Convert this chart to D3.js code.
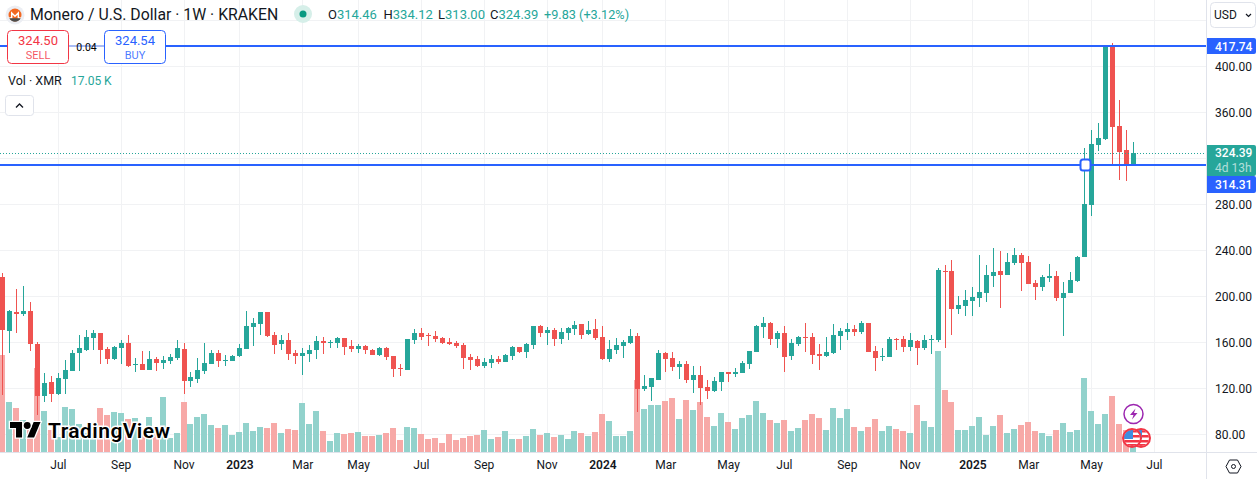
<!DOCTYPE html>
<html>
<head>
<meta charset="utf-8">
<style>
  html, body { margin: 0; padding: 0; background: #fff; overflow: hidden; }
  svg { display: block; }
  text { font-family: Roboto, "Noto Sans", sans-serif; }
</style>
<script src="https://cdnjs.cloudflare.com/ajax/libs/d3/7.8.5/d3.min.js"></script>
</head>
<body>
<script>
// weekly XMR/USD candles
var opens = [216.8,169.8,186.1,184.3,186.9,158.2,113.0,125.2,114.8,127.8,134.8,150.4,153.0,163.5,167.8,153.9,145.2,154.8,159.1,140.0,140.8,135.6,145.2,141.7,143.5,146.1,153.9,126.1,127.8,134.8,140.8,150.4,143.8,143.5,147.8,153.9,173.0,175.6,186.1,166.1,158.2,161.7,150.4,147.8,149.5,153.0,
160.8,159.4,159.1,163.5,156.5,153.9,156.5,153.0,148.7,154.8,
147.8,137.4,135.6,161.7,167.8,166.1,165.2,163.5,160.0,159.1,
157.4,146.9,145.2,139.1,141.7,145.2,142.6,147.8,155.6,151.3,
157.4,173.9,167.8,170.4,162.6,167.8,171.3,175.6,166.9,171.3,
164.3,145.2,153.0,156.5,159.1,165.2,119.1,120.8,126.9,150.4,
146.1,138.2,140.8,126.9,131.3,120.8,117.4,125.2,133.9,132.2,
133.0,140.8,151.3,173.0,176.5,162.6,167.8,147.8,158.2,164.3,
164.3,149.5,147.8,150.4,165.2,168.7,171.3,168.7,176.5,152.2,
146.9,146.9,162.6,162.6,155.6,160.8,154.8,161.7,161.7,221.7,
221.7,188.7,191.3,195.6,198.3,202.6,217.4,221.7,218.3,228.7,
235.7,229.6,211.3,207.8,215.6,217.4,198.3,202.6,213.0,233.9,
279.1,331.3,336.5,417.4,347.8,326.9,314.46];

var highs = [219.7,187.8,206.1,208.7,194.8,160.0,133.0,130.4,133.0,144.3,153.0,166.1,170.4,170.4,167.8,155.6,156.5,161.7,166.1,146.1,152.2,152.2,146.9,147.8,149.5,161.7,159.1,133.9,146.1,159.1,153.0,153.0,148.7,148.7,158.2,186.9,180.9,186.1,186.1,168.7,166.1,167.8,153.0,154.8,157.4,165.2,
164.3,161.7,164.3,163.5,161.7,158.2,157.4,153.9,155.6,155.6,
147.8,140.8,162.6,171.3,172.2,167.8,169.5,164.3,163.5,160.8,
159.1,149.5,147.8,146.1,148.7,147.8,149.5,156.5,155.6,159.1,
173.9,174.8,173.0,172.2,172.2,173.0,178.2,175.6,178.2,180.0,
173.9,161.7,163.5,161.7,171.3,167.8,131.3,128.7,153.0,151.3,
151.3,143.5,143.5,139.1,139.1,126.9,129.5,133.9,133.9,137.4,
143.5,152.2,174.8,181.7,177.4,169.5,173.9,162.6,165.2,176.5,
167.8,158.2,164.3,175.6,172.2,176.5,174.8,178.2,176.5,156.5,
154.8,164.3,163.5,165.2,167.8,161.7,166.1,166.1,224.3,227.0,
231.3,200.0,205.2,207.8,235.7,227.0,241.7,239.1,237.4,241.7,
237.4,234.8,213.9,218.3,227.8,221.7,212.2,220.9,234.8,328.7,
344.3,350.4,417.74,420.0,370.4,344.3,334.12];

var lows = [113.9,150.7,168.1,182.6,152.4,96.5,107.8,107.8,113.9,114.8,134.8,134.8,152.2,153.0,140.8,140.8,144.3,140.8,138.2,133.9,135.6,135.6,134.8,136.5,140.8,144.3,114.8,120.8,124.3,132.2,140.8,138.2,139.1,143.5,146.9,153.9,156.5,166.1,164.3,149.5,153.0,144.3,140.8,131.3,142.6,145.2,
149.5,154.8,154.8,148.7,151.3,150.4,149.5,148.7,147.8,144.3,
129.5,130.4,135.6,158.2,161.7,156.5,160.0,158.2,157.4,154.8,
136.5,135.6,138.2,137.4,137.4,140.8,142.6,144.3,150.4,146.1,
153.9,164.3,157.4,156.5,158.2,161.7,166.1,162.6,166.1,161.7,
144.3,142.6,149.5,146.1,158.2,99.1,117.4,108.7,126.9,133.9,
134.8,127.8,124.3,115.6,105.2,110.4,116.5,117.4,125.2,129.5,
133.0,136.5,151.3,163.5,157.4,154.8,133.9,144.3,156.5,151.3,
140.8,135.6,146.9,149.5,153.0,161.7,165.2,166.9,151.3,134.8,
143.5,146.9,153.0,151.3,152.2,140.0,153.0,149.5,160.0,154.8,
166.1,184.3,182.6,182.6,190.4,194.8,207.8,189.6,218.3,227.0,
204.3,210.4,196.5,204.3,212.2,195.6,165.2,202.6,212.2,233.9,
269.5,326.1,335.6,314.8,300.9,300.0,313.00];

var closes = [170.4,186.9,184.3,186.9,158.5,113.0,124.3,114.8,128.7,135.6,150.4,154.8,164.3,167.8,153.0,145.2,155.6,159.1,139.1,140.8,135.6,145.2,141.7,144.3,146.9,154.8,126.1,129.5,135.6,141.7,150.4,143.5,144.3,147.8,154.8,173.9,176.5,186.1,165.2,157.4,161.7,149.5,147.8,150.4,153.0,160.9,
159.1,160.3,163.5,155.6,153.9,156.5,153.0,148.7,154.8,146.9,
136.5,136.5,162.6,167.8,164.3,165.2,162.6,159.1,158.2,156.5,
146.1,144.3,139.1,142.6,145.2,142.6,148.7,155.6,151.3,158.2,
173.9,167.8,170.4,162.6,168.7,172.2,174.8,166.1,170.4,163.5,
145.2,153.9,157.4,160.0,165.2,119.1,121.7,128.7,150.4,145.2,
138.2,140.8,126.9,131.3,120.0,117.4,126.1,133.9,132.2,133.9,
141.7,152.2,173.9,176.5,162.6,167.8,146.9,159.1,164.3,163.5,
148.7,147.8,151.3,166.1,169.5,171.3,168.7,176.5,151.3,146.1,
147.8,162.6,161.7,155.6,161.7,154.8,161.7,162.6,222.6,220.9,
188.7,192.2,196.5,199.1,203.5,218.3,220.9,218.3,229.6,235.7,
228.7,210.4,207.8,216.5,217.4,198.3,202.6,213.9,233.9,280.0,
332.2,337.4,417.4,346.9,325.2,314.8,324.39];

// volume in thousands
var volumes = [87.3,45,39.6,28.8,19.8,75.6,36.9,19.8,13.8,40.5,38.7,25.2,16.8,16.8,39.6,33.3,36,35.1,29.7,30.6,19.8,31.5,22.8,49.5,12.6,17.1,45,25.2,31.5,34.2,24.3,21.6,24.3,15.3,18,26.1,18.9,22.5,21.6,26.1,17.1,20.7,19.8,44.1,25.2,36.9,
18.9,9.9,17.1,16.2,17.1,18,14.4,14.4,15.3,17.1,
21.6,10.8,22.5,21.6,16.2,11.7,12.6,8.1,16.2,10.8,
12.6,14.4,15.3,19.8,11.7,13.5,18.9,11.7,11.7,14.4,
20.7,15.3,17.1,13.5,15.3,11.7,18.9,17.1,14.4,18,
34.2,27.9,14.4,14.4,18.9,64.8,38.7,42.3,42.3,45.9,
48.6,29.7,46.8,37.8,45,31.5,23.4,35.1,27,20.7,
30.6,33.3,45.9,35.1,28.8,26.1,28.8,18.9,21.6,28.8,
34.2,30.6,19.8,39.6,30.6,38.7,22.5,18.9,22.5,29.7,
18.9,23.4,20.7,18.9,17.1,42.3,27.9,22.5,90.9,55.8,
45,19.8,19.8,23.4,31.5,15.3,23.4,33.3,17.1,20.7,
24.3,27,18.9,17.1,14.4,19.8,26.1,18,19.8,66.6,
36.9,25.2,34.2,50.4,25.2,20,17.05];

var priceTicks = [80,120,160,200,240,280,320,360,400,440];
var priceLabels = [80,120,160,200,240,280,360,400];
var timeTicks = [8,17,26,34,43,51,60,69,78,86,95,104,112,121,130,139,147,156,165];
var timeLabels = ["Jul","Sep","Nov","2023","Mar","May","Jul","Sep","Nov","2024","Mar","May","Jul","Sep","Nov","2025","Mar","May","Jul"];
var yearLabels = ["2023","2024","2025"];

var width = 1257;
var height = 479;
var paneRight = 1206;
var paneBottom = 452;
var upColor = "#26a69a";
var downColor = "#ef5350";
var blue = "#2962ff";
var textColor = "#131722";
var gridColor = "#f1f2f4";

var x = d3.scaleLinear().domain([0, 162]).range([2, 1133]);
var y = d3.scaleLinear().domain([80, 400]).range([434, 66]);
var v = d3.scaleLinear().domain([0, 100]).range([paneBottom, paneBottom - 111.1]);

var col = function(i) { return Math.round(x(i)); };

var canvas = d3.select("body")
  .append("svg")
  .attr("width", width)
  .attr("height", height);

canvas.append("clipPath").attr("id", "pane")
  .append("rect").attr("width", paneRight).attr("height", paneBottom);

var pane = canvas.append("g").attr("clip-path", "url(#pane)");

// grid
pane.append("g").selectAll("line").data(priceTicks).join("line")
  .attr("x1", 0).attr("x2", paneRight)
  .attr("y1", d => Math.round(y(d)) + 0.5).attr("y2", d => Math.round(y(d)) + 0.5)
  .attr("stroke", gridColor);
pane.append("g").selectAll("line").data(timeTicks).join("line")
  .attr("x1", d => col(d) + 0.5).attr("x2", d => col(d) + 0.5)
  .attr("y1", 0).attr("y2", paneBottom)
  .attr("stroke", gridColor);

// volume
pane.append("g").selectAll("rect").data(volumes).join("rect")
  .attr("x", (d, i) => col(i) - 3)
  .attr("width", 6)
  .attr("y", d => Math.round(v(d)))
  .attr("height", d => paneBottom - Math.round(v(d)))
  .attr("fill", (d, i) => closes[i] >= opens[i] ? "#92d2cc" : "#f7a9a7");

// candles
var candles = pane.append("g").selectAll("g").data(opens).join("g")
  .attr("fill", (d, i) => closes[i] >= opens[i] ? upColor : downColor);
candles.append("rect")
  .attr("x", (d, i) => col(i))
  .attr("width", 1)
  .attr("y", (d, i) => Math.round(y(highs[i])))
  .attr("height", (d, i) => Math.max(1, Math.round(y(lows[i])) - Math.round(y(highs[i]))));
candles.append("rect")
  .attr("x", (d, i) => col(i) - 2)
  .attr("width", 5)
  .attr("y", (d, i) => Math.round(y(Math.max(opens[i], closes[i]))))
  .attr("height", (d, i) => Math.max(1, Math.round(y(Math.min(opens[i], closes[i]))) - Math.round(y(Math.max(opens[i], closes[i])))));

// last price dotted line
pane.append("line")
  .attr("x1", 0).attr("x2", paneRight)
  .attr("y1", Math.round(y(324.39)) + 0.5).attr("y2", Math.round(y(324.39)) + 0.5)
  .attr("stroke", upColor).attr("stroke-dasharray", "1 2");

// horizontal drawing lines
var levels = [417.74, 314.31];
pane.append("g").selectAll("line").data(levels).join("line")
  .attr("x1", 0).attr("x2", paneRight)
  .attr("y1", d => Math.round(y(d))).attr("y2", d => Math.round(y(d)))
  .attr("stroke", blue).attr("stroke-width", 2);
pane.append("rect")
  .attr("x", 1080.5).attr("y", Math.round(y(314.31)) - 5.5).attr("width", 10).attr("height", 11).attr("rx", 2.5)
  .attr("fill", "#fff").attr("stroke", blue).attr("stroke-width", 2);

// pane borders
canvas.append("line").attr("x1", paneRight + 0.5).attr("x2", paneRight + 0.5).attr("y1", 0).attr("y2", height).attr("stroke", "#e0e3eb");
canvas.append("line").attr("x1", 0).attr("x2", width).attr("y1", paneBottom + 0.5).attr("y2", paneBottom + 0.5).attr("stroke", "#e0e3eb");

// axes
var priceAxis = d3.axisRight(y).tickValues(priceLabels).tickSize(0).tickPadding(0).tickFormat(d3.format(".2f"));
var priceG = canvas.append("g").attr("transform", `translate(${paneRight + 9},1)`).call(priceAxis);
priceG.select(".domain").remove();
priceG.selectAll("text").attr("font-size", 12).attr("fill", textColor).attr("font-family", "Roboto");

var timeAxis = d3.axisBottom(x).tickValues(timeTicks).tickSize(0).tickPadding(0)
  .tickFormat((d, i) => timeLabels[i]);
var timeG = canvas.append("g").attr("transform", `translate(0,${paneBottom + 8})`).call(timeAxis);
timeG.select(".domain").remove();
timeG.selectAll("text")
  .attr("font-size", 12)
  .attr("font-family", "Roboto")
  .attr("fill", textColor)
  .attr("font-weight", (d, i) => yearLabels.indexOf(timeLabels[i]) >= 0 ? 600 : 400);

// price tags on the axis
function tag(value, top, h, color, baseline, label) {
  var g = canvas.append("g");
  g.append("path")
    .attr("d", `M${paneRight + 1},${top}h47a2,2 0 0 1 2,2v${h - 4}a2,2 0 0 1 -2,2h-47z`)
    .attr("fill", color);
  g.append("text").attr("x", paneRight + 9).attr("y", top + baseline).attr("font-size", 12).attr("font-weight", 500)
    .attr("fill", "#fff").text(value);
  if (label) g.append("text").attr("x", paneRight + 9).attr("y", top + 27).attr("font-size", 12)
    .attr("fill", "#fff").attr("fill-opacity", 0.65).text(label);
}
tag("417.74", 38, 16, blue, 12.5);
tag("324.39", 145, 31, upColor, 12, "4d 13h");
tag("314.31", 176, 17, blue, 13);

// USD button
canvas.append("rect").attr("x", 1210.5).attr("y", 2.5).attr("width", 45).attr("height", 25).attr("rx", 4)
  .attr("fill", "#fff").attr("stroke", "#e0e3eb");
canvas.append("text").attr("x", 1214).attr("y", 19).attr("font-size", 12).attr("fill", textColor).text("USD");
canvas.append("path").attr("d", "M1246,14l2.5,2.5l2.5,-2.5").attr("fill", "none").attr("stroke", textColor).attr("stroke-width", 1.2);

// settings hexagon
canvas.append("path").attr("d", "M1226,466.5l3.5,-6.5h8l3.5,6.5l-3.5,6.5h-8z").attr("fill", "none").attr("stroke", textColor);
canvas.append("circle").attr("cx", 1233.5).attr("cy", 466.5).attr("r", 2).attr("fill", "none").attr("stroke", textColor);

// header
var head = canvas.append("g");
head.append("circle").attr("cx", 15).attr("cy", 15).attr("r", 9.5).attr("fill", "#eceef3");
head.append("circle").attr("cx", 15).attr("cy", 15).attr("r", 6.5).attr("fill", "#f26822");
head.append("path").attr("d", "M9.3,18h2.4v-5l3.3,3.2l3.3,-3.2v5h2.4").attr("fill", "none").attr("stroke", "#fff").attr("stroke-width", 1.4);
head.append("path").attr("d", "M9.3,18.3h2.4l3.3,-0.1l3.3,0.1h2.4a6.5,6.5 0 0 1 -11.4,0z").attr("fill", "#4d4d4d");
head.append("text").attr("x", 30).attr("y", 20).attr("font-size", 15.8).attr("font-family", "Open Sans").attr("fill", textColor)
  .text("Monero / U.S. Dollar · 1W · KRAKEN");
head.append("circle").attr("cx", 303).attr("cy", 14).attr("r", 9).attr("fill", "#d6efe9");
head.append("circle").attr("cx", 303).attr("cy", 14).attr("r", 3.5).attr("fill", "#089981");

var ohlcLabels = ["O", "H", "L", "C"];
var ohlcValues = ["314.46", "334.12", "313.00", "324.39"];
var ohlcX = [328, 383.5, 438, 490];
ohlcLabels.forEach(function(k, i) {
  var t = head.append("text").attr("x", ohlcX[i]).attr("y", 19).attr("font-size", 13).attr("font-family", "Open Sans").attr("fill", textColor);
  t.append("tspan").text(k);
  t.append("tspan").attr("fill", upColor).text(ohlcValues[i]);
});
head.append("text").attr("x", 544).attr("y", 19).attr("font-size", 12.7).attr("font-family", "Open Sans").attr("fill", upColor).text("+9.83 (+3.12%)");

// buy and sell buttons
canvas.append("rect").attr("x", 69).attr("y", 44).attr("width", 35).attr("height", 4).attr("fill", "#fff");
canvas.append("line").attr("x1", 69).attr("x2", 104).attr("y1", 46).attr("y2", 46).attr("stroke", "#a9bcf5").attr("stroke-width", 2);
function orderBox(bx, color, price, side) {
  canvas.append("rect").attr("x", bx + 0.5).attr("y", 30.5).attr("width", 61).attr("height", 33).attr("rx", 4)
    .attr("fill", "#fff").attr("stroke", color);
  canvas.append("text").attr("x", bx + 31).attr("y", 45).attr("text-anchor", "middle").attr("font-size", 13).attr("fill", color).text(price);
  canvas.append("text").attr("x", bx + 31).attr("y", 59).attr("text-anchor", "middle").attr("font-size", 11).attr("fill", color).attr("fill-opacity", 0.85).text(side);
}
orderBox(7, "#f23645", "324.50", "SELL");
orderBox(104, blue, "324.54", "BUY");
canvas.append("text").attr("x", 86.5).attr("y", 51).attr("text-anchor", "middle").attr("font-size", 10.5).attr("fill", "#000").text("0.04");

// volume legend
canvas.append("text").attr("x", 8).attr("y", 85).attr("font-size", 12.5).attr("fill", textColor).text("Vol · XMR");
canvas.append("text").attr("x", 71).attr("y", 85).attr("font-size", 12).attr("fill", upColor).text("17.05 K");
canvas.append("rect").attr("x", 5.5).attr("y", 95.5).attr("width", 28).attr("height", 20).attr("rx", 3).attr("fill", "#fff").attr("stroke", "#e0e3eb");
canvas.append("path").attr("d", "M16,107.5l3.5,-3.5l3.5,3.5").attr("fill", "none").attr("stroke", textColor).attr("stroke-width", 1.3);

// tradingview logo
var logo = canvas.append("g");
logo.append("g").attr("transform", "translate(10,418.6) scale(0.86)")
  .call(function(g) {
    g.append("path").attr("d", "M14 22H7V11H0V4h14v18zM28 22h-8l7.5-18h8L28 22z").attr("fill", "#000")
      .attr("stroke", "#fff").attr("stroke-width", 3).attr("paint-order", "stroke");
    g.append("circle").attr("cx", 20).attr("cy", 8).attr("r", 4).attr("fill", "#000")
      .attr("stroke", "#fff").attr("stroke-width", 3).attr("paint-order", "stroke");
  });
logo.append("text").attr("x", 48).attr("y", 438).attr("font-size", 21).attr("letter-spacing", 0.45).attr("font-weight", 600).attr("font-family", "Inter")
  .attr("fill", "#000").attr("stroke", "#fff").attr("stroke-width", 3).attr("paint-order", "stroke").text("TradingView");

// event markers
canvas.append("circle").attr("cx", 1133.5).attr("cy", 414).attr("r", 9.5).attr("fill", "#fff").attr("stroke", "#9c27b0").attr("stroke-width", 1.5);
canvas.append("path").attr("d", "M1135.5,408.5l-5.5,6.5h3.5l-1.5,4.5l5.5,-6.5h-3.5z").attr("fill", "#9c27b0");

function flag(id, cx, cy) {
  var g = canvas.append("g");
  g.append("clipPath").attr("id", id).append("circle").attr("cx", cx).attr("cy", cy).attr("r", 8);
  var f = g.append("g").attr("clip-path", `url(#${id})`);
  f.append("rect").attr("x", cx - 8).attr("y", cy - 8).attr("width", 16).attr("height", 16).attr("fill", "#fff");
  [-8, -3, 2, 6].forEach(function(d) {
    f.append("rect").attr("x", cx - 8).attr("y", cy + d).attr("width", 16).attr("height", 2.5).attr("fill", "#f23645");
  });
  f.append("rect").attr("x", cx - 8).attr("y", cy - 8).attr("width", 9).attr("height", 9).attr("fill", "#3d8ee0");
  g.append("circle").attr("cx", cx).attr("cy", cy).attr("r", 9).attr("fill", "none").attr("stroke", "#f23645").attr("stroke-width", 2);
}
flag("flagB", 1141, 438);
flag("flagA", 1132, 438);
</script>
</body>
</html>
